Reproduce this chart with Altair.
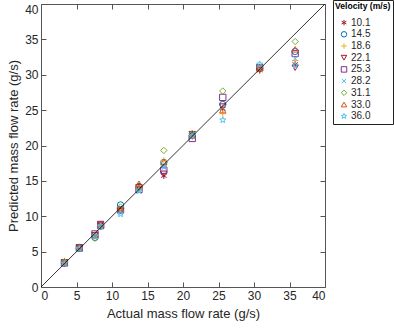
import altair as alt
import pandas as pd
import numpy as np

velocities = ["10.1", "14.5", "18.6", "22.1", "25.3", "28.2", "31.1", "33.0", "36.0"]
actual = [3.3, 5.4, 7.6, 8.4, 11.2, 13.8, 17.3, 21.3, 25.6, 30.8, 35.8]
pred_10_1 = [3.5, 5.6, 7.2, 8.7, 10.8, 14.0, 15.7, 21.5, 25.2, 30.6, 31.5]
pred_14_5 = [3.4, 5.5, 7.0, 8.6, 11.6, 14.2, 17.6, 21.4, 25.8, 30.9, 33.3]
pred_18_6 = [3.7, 5.7, 7.4, 8.8, 11.0, 13.9, 17.9, 21.2, 24.5, 30.5, 32.0]
pred_22_1 = [3.5, 5.6, 7.3, 8.9, 10.7, 14.1, 16.0, 21.6, 25.5, 30.7, 31.0]
pred_25_3 = [3.4, 5.5, 7.5, 8.7, 10.9, 13.8, 16.5, 21.0, 26.8, 31.0, 33.0]
pred_28_2 = [3.3, 5.4, 7.1, 8.5, 10.5, 13.5, 17.2, 21.3, 25.3, 30.8, 32.3]
pred_31_1 = [3.6, 5.5, 6.9, 8.6, 11.3, 14.0, 19.3, 21.7, 27.7, 31.1, 34.7]
pred_33_0 = [3.5, 5.6, 7.4, 8.8, 11.0, 14.6, 17.7, 21.4, 25.0, 31.0, 33.6]
pred_36_0 = [3.3, 5.4, 7.2, 8.6, 10.3, 13.6, 17.0, 21.3, 23.6, 31.5, 31.3]
preds = [pred_10_1, pred_14_5, pred_18_6, pred_22_1, pred_25_3,
         pred_28_2, pred_31_1, pred_33_0, pred_36_0]
diag = [0, 40]

rows = []
for v, p in zip(velocities, preds):
    for a, b in zip(actual, p):
        rows.append({"Velocity": v, "actual": a, "pred": b})
df = pd.DataFrame(rows)
line_df = pd.DataFrame({"x": diag, "y": diag})

colors = ["#A2142F", "#0072BD", "#EDB120", "#A2142F", "#7E2F8E",
          "#4DBEEE", "#77AC30", "#D95319", "#4DBEEE"]

# star path
pts = []
for i in range(10):
    r = 1.0 if i % 2 == 0 else 0.42
    ang = -np.pi / 2 + i * np.pi / 5
    pts.append((r * np.cos(ang), r * np.sin(ang)))
star = "M" + "L".join(f"{x:.3f},{y:.3f}" for x, y in pts) + "Z"
asterisk = "M0,-1L0,1M-0.87,-0.5L0.87,0.5M-0.87,0.5L0.87,-0.5"
plus = "M-1,0L1,0M0,-1L0,1"
xmark = "M-0.8,-0.8L0.8,0.8M-0.8,0.8L0.8,-0.8"
shapes = [asterisk, "circle", plus, "triangle-down", "square", xmark,
          "diamond", "triangle-up", star]

FONT = "Liberation Sans"
TICKS = list(range(0, 41, 5))
axis_common = dict(grid=False, domain=False, tickSize=5, offset=-5,
                   tickColor="#555555", labelColor="#262626", labelFont=FONT,
                   labelFontSize=12, titleFont=FONT, titleFontSize=13,
                   titleFontWeight="normal", titleColor="#262626",
                   values=TICKS)

xscale = alt.Scale(domain=[0, 40], nice=False)
yscale = alt.Scale(domain=[0, 40], nice=False)

pointsc = alt.Chart(df).mark_point(filled=False, strokeWidth=1, size=40, opacity=1).encode(
    x=alt.X("actual:Q", scale=xscale,
            axis=alt.Axis(title="Actual mass flow rate (g/s)", labelPadding=3,
                          titlePadding=6, **axis_common)),
    y=alt.Y("pred:Q", scale=yscale,
            axis=alt.Axis(title="Predicted mass flow rate (g/s)", labelPadding=3,
                          titlePadding=4,
                          labelBaseline={"condition": {"test": "datum.value == 40", "value": "top"},
                                         "value": "middle"},
                          **axis_common)),
    color=alt.Color("Velocity:N", sort=velocities,
                    scale=alt.Scale(domain=velocities, range=colors),
                    legend=alt.Legend(title="Velocity (m/s)")),
    shape=alt.Shape("Velocity:N", sort=velocities,
                    scale=alt.Scale(domain=velocities, range=shapes),
                    legend=alt.Legend(title="Velocity (m/s)")),
)

mirror = dict(grid=False, domain=False, tickSize=5, offset=-5, labels=False,
              title=None, tickColor="#555555", values=TICKS)
linec = alt.Chart(line_df).mark_line(color="black", strokeWidth=0.8).encode(
    x=alt.X("x:Q", scale=xscale, axis=alt.Axis(orient="top", **mirror)),
    y=alt.Y("y:Q", scale=yscale, axis=alt.Axis(orient="right", **mirror)),
)

chart = alt.layer(pointsc, linec).resolve_scale(
    x="independent", y="independent"
).properties(
    width=284, height=283,
    autosize=alt.AutoSizeParams(type="none"),
    padding={"left": 41, "top": 4, "right": 69, "bottom": 42},
).configure_view(
    stroke="#555555", strokeWidth=1
).configure_legend(
    orient="none", legendX=292, legendY=-4,
    strokeColor="#222222", padding=2, fillColor="white",
    titleFont=FONT, titleFontSize=8.6, titleFontWeight="bold", titleColor="black",
    labelFont=FONT, labelFontSize=10, labelColor="#262626",
    symbolSize=30, symbolStrokeWidth=1, rowPadding=1.7, titlePadding=7,
    symbolOffset=4, labelOffset=2,
)

chart.save("out.html", embed_options={"renderer": "svg", "actions": False})
